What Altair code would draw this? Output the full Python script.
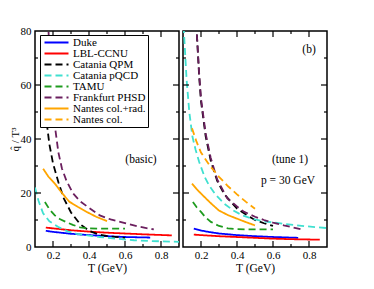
import altair as alt
import pandas as pd

series = ["Duke", "LBL-CCNU", "Catania QPM", "Catania pQCD", "TAMU",
          "Frankfurt PHSD", "Nantes col.+rad.", "Nantes col."]
colors = ["#0000FF", "#FF0000", "#000000", "#40E0D0", "#1E9B1E",
          "#6B1F5E", "#FFA500", "#FFA500"]
dashes = [[1, 0], [1, 0], [7, 4], [7, 4], [7, 4], [7, 4], [1, 0], [7, 4]]

# ---- panel (basic) ----
basic = {
    "Duke": ([0.16, 0.2, 0.3, 0.4, 0.5, 0.6, 0.74],
             [6.0, 5.6, 4.9, 4.4, 4.0, 3.7, 3.5]),
    "LBL-CCNU": ([0.16, 0.2, 0.3, 0.4, 0.5, 0.6, 0.7, 0.86],
                 [7.2, 6.9, 6.2, 5.7, 5.3, 5.0, 4.7, 4.3]),
    "Catania QPM": ([0.165, 0.18, 0.2, 0.23, 0.26, 0.3, 0.35, 0.4, 0.46, 0.52, 0.6],
                    [46, 38, 31, 24, 18, 12.8, 8.5, 6.0, 4.5, 3.9, 3.4]),
    "Catania pQCD": ([0.1, 0.12, 0.145, 0.18, 0.23, 0.28, 0.33, 0.4, 0.46, 0.55, 0.65, 0.75, 0.9],
                     [22, 17, 12.5, 9.5, 7.4, 5.8, 4.9, 4.2, 3.7, 3.1, 2.5, 2.2, 1.9]),
    "TAMU": ([0.155, 0.18, 0.21, 0.24, 0.275, 0.31, 0.35, 0.4, 0.45, 0.5, 0.6],
             [16.7, 14, 11.7, 10.3, 9.2, 8.2, 7.3, 6.9, 6.8, 6.8, 6.8]),
    "Frankfurt PHSD": ([0.165, 0.175, 0.19, 0.21, 0.23, 0.25, 0.275, 0.31, 0.35, 0.4, 0.46, 0.52, 0.6, 0.68, 0.76],
                       [100, 80, 60, 45, 35, 29, 24.5, 20, 17, 14.5, 11.7, 10.2, 8.8, 7.5, 6.5]),
    "Nantes col.+rad.": ([0.145, 0.175, 0.21, 0.25, 0.29, 0.34, 0.39, 0.44, 0.5],
                         [29, 26, 23.5, 20, 16.8, 14.8, 12.9, 11.2, 9.6]),
}

# ---- panel (tune 1) ----
tune1 = {
    "Duke": ([0.16, 0.2, 0.25, 0.3, 0.4, 0.5, 0.6, 0.74],
             [6.8, 6.1, 5.5, 5.0, 4.4, 4.0, 3.7, 3.4]),
    "LBL-CCNU": ([0.16, 0.2, 0.3, 0.4, 0.5, 0.6, 0.7, 0.86],
                 [4.6, 4.4, 4.0, 3.7, 3.4, 3.1, 2.9, 2.7]),
    "Catania QPM": ([0.17, 0.176, 0.19, 0.2, 0.226, 0.254, 0.29, 0.33, 0.4, 0.45, 0.5, 0.55, 0.6],
                    [95, 80, 63, 54, 41, 32, 24.5, 19.5, 14.2, 12, 10, 8.8, 7.8]),
    "Catania pQCD": ([0.1, 0.105, 0.12, 0.135, 0.152, 0.17, 0.19, 0.22, 0.245, 0.28, 0.33, 0.38, 0.43, 0.5, 0.55, 0.66, 0.78, 0.9],
                     [90, 80, 62, 50, 41, 36, 31.5, 26, 22.8, 19.5, 16, 13.5, 11.7, 10.2, 9.5, 8.6, 7.7, 7.0]),
    "TAMU": ([0.155, 0.175, 0.2, 0.225, 0.255, 0.3, 0.35, 0.4, 0.5, 0.6],
             [16.7, 14.8, 13, 11, 9.3, 7.8, 6.9, 6.6, 6.5, 6.5]),
    "Frankfurt PHSD": ([0.17, 0.176, 0.19, 0.2, 0.226, 0.254, 0.29, 0.346, 0.4, 0.44, 0.5, 0.55, 0.6, 0.66, 0.76],
                       [95, 80, 64, 55, 42, 33, 25, 18, 15, 13, 11.2, 10, 9, 8, 6.5]),
    "Nantes col.+rad.": ([0.15, 0.175, 0.2, 0.25, 0.3, 0.35, 0.4, 0.45, 0.5],
                         [23.5, 21.5, 19.8, 16.5, 13.5, 11.8, 10.5, 9.2, 8.0]),
    "Nantes col.": ([0.15, 0.175, 0.2, 0.25, 0.3, 0.35, 0.4, 0.45, 0.5],
                    [44, 39, 35, 30, 26, 22.5, 19.5, 16.7, 14.2]),
}

x_major = [0.2, 0.4, 0.6, 0.8]
x_minor = [0.3, 0.5, 0.7]
y_major = [20, 40, 60]
y_minor = [10, 30, 50, 70]
y_labels = [0, 20, 40, 60, 80]

W, H = 144, 216
FONT = "Liberation Serif"


def frame(d):
    rows = []
    for s, (ts, qs) in d.items():
        for i, (t, q) in enumerate(zip(ts, qs)):
            rows.append({"series": s, "T": t, "q": q, "i": i})
    return pd.DataFrame(rows)


legend = alt.Legend(
    title=None, orient="none", legendX=5, legendY=4,
    symbolType="M-1,0H7", symbolSize=36, symbolStrokeWidth=2,
    labelFont=FONT, labelFontSize=11, labelColor="black", labelFontWeight="normal",
    labelOffset=20, rowPadding=-1, padding=2,
    strokeColor="black", fillColor="white",
)


def panel(d, show_y, texts):
    xs = alt.Scale(domain=[0.1, 0.9], nice=False, zero=False)
    ys = alt.Scale(domain=[0, 80], nice=False, zero=True)
    xaxis = alt.Axis(values=x_major, format=".1f", title="T (GeV)", ticks=False,
                     domain=False, grid=False, labelFont=FONT, labelFontSize=11,
                     titleFont=FONT, titleFontSize=11.5, titleFontWeight="normal",
                     labelColor="black", titleColor="black", labelPadding=2, titlePadding=2)
    if show_y:
        yaxis = alt.Axis(values=y_labels, title="q\u0302 / T\u00b3", ticks=False, domain=False,
                         grid=False, labelFont=FONT, labelFontSize=11, titleFont=FONT,
                         titleFontSize=11, titleFontWeight="normal", labelColor="black",
                         titleColor="black", labelPadding=4, titlePadding=0)
    else:
        yaxis = None
    df = frame(d)
    lines = alt.Chart(df).mark_line(clip=True, strokeWidth=1.8).encode(
        x=alt.X("T:Q", scale=xs, axis=xaxis),
        y=alt.Y("q:Q", scale=ys, axis=yaxis),
        color=alt.Color("series:N", scale=alt.Scale(domain=series, range=colors), legend=legend),
        strokeDash=alt.StrokeDash("series:N", scale=alt.Scale(domain=series, range=dashes), legend=legend),
        order="i:Q",
    )
    layers = [lines]
    xmj = pd.DataFrame({"T": x_major})
    xmn = pd.DataFrame({"T": x_minor})
    ymj = pd.DataFrame({"q": y_major})
    ymn = pd.DataFrame({"q": y_minor})
    for data, ln in ((xmj, 6), (xmn, 3)):
        layers.append(alt.Chart(data).mark_rule(color="black", strokeWidth=1.2).encode(
            x="T:Q", y=alt.value(H), y2=alt.value(H - ln)))
        layers.append(alt.Chart(data).mark_rule(color="black", strokeWidth=1.2).encode(
            x="T:Q", y=alt.value(0), y2=alt.value(ln)))
    for data, ln in ((ymj, 6), (ymn, 3)):
        layers.append(alt.Chart(data).mark_rule(color="black", strokeWidth=1.2).encode(
            y="q:Q", x=alt.value(0), x2=alt.value(ln)))
        layers.append(alt.Chart(data).mark_rule(color="black", strokeWidth=1.2).encode(
            y="q:Q", x=alt.value(W), x2=alt.value(W - ln)))
    for txt, px, py in texts:
        layers.append(alt.Chart(pd.DataFrame({"t": [txt]})).mark_text(
            font=FONT, fontSize=11.5, color="black", align="center", baseline="middle"
        ).encode(text="t:N", x=alt.value(px), y=alt.value(py)))
    return alt.layer(*layers).properties(width=W, height=H)


left = panel(basic, True, [("(basic)", 106, 129)])
right = panel(tune1, False, [("(b)", 126, 19), ("(tune 1)", 107, 129), ("p = 30 GeV", 105, 150)])

chart = alt.hconcat(left, right, spacing=0).properties(
    padding={"left": 0, "top": 16, "right": 0, "bottom": 0},
    background="white",
).configure_view(stroke="black", strokeWidth=1.5).configure_legend(
    labelFont=FONT, labelFontSize=11, labelFontWeight="normal", labelColor="black",
)

chart.save("out.html", embed_options={"renderer": "svg", "actions": False})
